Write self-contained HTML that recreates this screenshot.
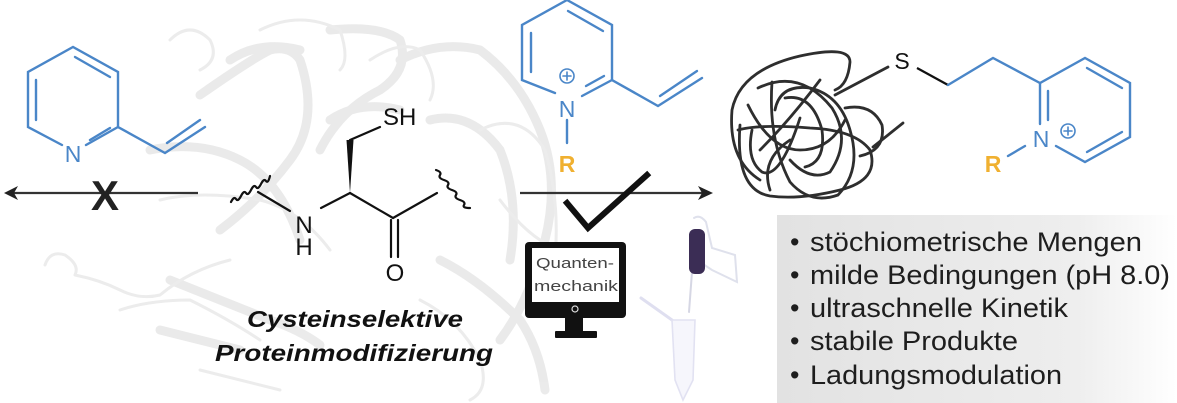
<!DOCTYPE html>
<html><head><meta charset="utf-8"><style>
html,body{margin:0;padding:0;background:#fff;}
svg{display:block}
text{font-family:"Liberation Sans",sans-serif;}
</style></head><body>
<svg width="1177" height="403" viewBox="0 0 1177 403" xmlns="http://www.w3.org/2000/svg">
<defs>
<linearGradient id="bx" x1="0" x2="1" y1="0" y2="0">
<stop offset="0" stop-color="#e2e2e2"/><stop offset="0.75" stop-color="#eeeeee"/><stop offset="1" stop-color="#ffffff"/>
</linearGradient>
</defs>
<!-- protein ribbons (faint) -->
<g fill="none" stroke-linecap="round" stroke-linejoin="round">
<g stroke="#e6e6e6" stroke-width="9" opacity="0.8">
<path d="M200 95 Q250 60 270 50 Q290 45 300 60 Q320 120 290 160 Q260 200 220 230"/>
<path d="M330 30 Q380 25 400 40 Q410 70 380 90 Q340 110 320 150"/>
<path d="M400 60 Q440 40 480 50 Q520 80 540 130 Q560 180 545 240 Q530 300 500 340"/>
<path d="M430 120 Q470 110 500 150 Q520 200 510 260"/>
<path d="M150 150 Q200 140 240 160 Q280 180 300 240"/>
<path d="M170 280 Q220 300 270 320 Q300 330 320 345"/>
<path d="M160 330 Q200 340 240 350"/>
<path d="M330 120 Q360 100 400 110"/>
<path d="M440 260 Q480 280 520 320 Q540 350 545 390"/>
<path d="M230 60 Q260 40 300 50"/>
</g>
<g stroke="#ececec" stroke-width="3">
<path d="M45 265 Q50 250 65 255 Q80 265 75 275 Q100 280 120 290 Q140 300 160 295 Q190 270 230 260"/>
<path d="M120 310 Q150 300 190 300 Q230 320 260 340"/>
<path d="M170 40 Q190 20 210 40 Q220 60 200 70"/>
<path d="M260 30 Q300 10 340 30 Q350 60 340 70"/>
<path d="M370 60 Q400 40 420 50 Q440 80 430 100"/>
<path d="M160 200 Q200 190 260 200 Q300 210 330 250"/>
<path d="M420 300 Q460 320 480 360 Q490 390 470 400"/>
<path d="M480 130 Q520 110 545 150 Q560 200 555 260"/>
<path d="M500 200 Q530 240 560 250"/>
<path d="M200 370 Q240 380 280 390"/>
</g>
</g>

<!-- left pyridine (blue) -->
<g stroke="#4a86c8" stroke-width="2.4" fill="none" stroke-linecap="round">
<polyline points="62,145 28,127 28,72 73,47 118,72 118,127 165,153 205,127"/>
<line x1="118" y1="127" x2="86" y2="145"/>
<line x1="36" y1="80" x2="36" y2="120"/>
<line x1="75" y1="57" x2="110" y2="77"/>
<line x1="110" y1="128" x2="90" y2="140"/>
<line x1="167" y1="143" x2="200" y2="120"/>
</g>
<text x="73" y="162" font-size="23" fill="#4a86c8" text-anchor="middle">N</text>

<!-- left arrow -->
<line x1="12" y1="193" x2="198" y2="193" stroke="#333" stroke-width="2.2"/>
<polygon points="4,193 18,186 14,193 18,200" fill="#222"/>
<text x="105" y="210" font-size="42" font-weight="bold" fill="#222" text-anchor="middle">X</text>

<!-- cysteine -->
<g stroke="#111" stroke-width="2.2" fill="none" stroke-linecap="round">
<path d="M231 202 q3 -6 5 -3 q2 3 5 -3 q3 -6 5 -3 q2 3 5 -3 q3 -6 5 -3 q2 3 5 -3 q3 -6 5 -3 q2 3 4 -5"/>
<line x1="258" y1="192" x2="290" y2="211"/>
<line x1="321" y1="208" x2="350" y2="193"/>
<line x1="350" y1="193" x2="393" y2="218"/>
<line x1="393" y1="218" x2="437" y2="193"/>
<line x1="391" y1="220" x2="391" y2="257"/>
<line x1="398" y1="220" x2="398" y2="257"/>
<line x1="350" y1="140" x2="380" y2="127"/>
<path d="M436 170 q6 2 4 5 q-2 3 4 5 q6 2 4 5 q-2 3 4 5 q6 2 4 5 q-2 3 4 5 q6 2 4 5 q-2 3 6 3"/>
</g>
<polygon points="350,193 346.5,140 353.5,140" fill="#111"/>
<text x="304" y="233" font-size="24" fill="#111" text-anchor="middle">N</text>
<text x="304" y="255" font-size="24" fill="#111" text-anchor="middle">H</text>
<text x="395" y="281" font-size="24" fill="#111" text-anchor="middle">O</text>
<text x="383" y="125" font-size="24" fill="#111">SH</text>
<text x="355" y="327" font-size="23" font-weight="bold" font-style="italic" fill="#111" text-anchor="middle" textLength="216" lengthAdjust="spacingAndGlyphs">Cysteinselektive</text>
<text x="354" y="361" font-size="23" font-weight="bold" font-style="italic" fill="#111" text-anchor="middle" textLength="278" lengthAdjust="spacingAndGlyphs">Proteinmodifizierung</text>

<!-- pyridinium reagent -->
<g stroke="#4a86c8" stroke-width="2.4" fill="none" stroke-linecap="round">
<polyline points="555,93 522,80 522,25 567,0 612,25 612,80 658,106 702,78"/>
<line x1="612" y1="80" x2="582" y2="96"/>
<line x1="531" y1="33" x2="531" y2="72"/>
<line x1="568" y1="11" x2="603" y2="31"/>
<line x1="604" y1="76" x2="586" y2="86"/>
<line x1="660" y1="96" x2="697" y2="71"/>
<line x1="567" y1="120" x2="567" y2="143"/>
<circle cx="567" cy="76" r="7" stroke-width="1.6"/>
<line x1="563" y1="76" x2="571" y2="76" stroke-width="1.6"/>
<line x1="567" y1="72" x2="567" y2="80" stroke-width="1.6"/>
</g>
<text x="567" y="117" font-size="23" fill="#4a86c8" text-anchor="middle">N</text>
<text x="567" y="172" font-size="23" font-weight="bold" fill="#f0b030" text-anchor="middle">R</text>

<!-- right arrow -->
<line x1="520" y1="193" x2="702" y2="193" stroke="#333" stroke-width="2.2"/>
<polygon points="713,193 698,186 702,193 698,200" fill="#222"/>
<polyline points="567,203 588,228 647,175" stroke="#111" stroke-width="6" fill="none" stroke-linecap="square"/>

<!-- monitor -->
<rect x="525" y="242" width="101" height="76" rx="4" fill="#111"/>
<rect x="532" y="248" width="87" height="54" fill="#fff"/>
<circle cx="575" cy="309" r="3" fill="none" stroke="#ddd" stroke-width="1.2"/>
<rect x="565" y="318" width="18" height="14" fill="#111"/>
<rect x="555" y="331" width="42" height="7" rx="1" fill="#111"/>
<text x="536" y="268" font-size="15" fill="#444" textLength="78" lengthAdjust="spacingAndGlyphs">Quanten-</text>
<text x="534" y="291" font-size="15" fill="#444" textLength="84" lengthAdjust="spacingAndGlyphs">mechanik</text>

<!-- pipette & tube -->
<g fill="none" stroke-linecap="round">
<path d="M694 218 Q700 214 706 222 L712 248 L735 255 L737 282 L712 270 L700 262" stroke="#dfe1ec" stroke-width="2"/>
<line x1="692" y1="272" x2="689" y2="312" stroke="#d6d7e4" stroke-width="2"/>
<path d="M641 298 L672 320" stroke="#dfdff0" stroke-width="3"/>
<path d="M672 320 L695 320 L693 380 L683 400 L675 380 Z" stroke="#e2e2f2" stroke-width="1.6" fill="#f6f6fc"/>
</g>
<rect x="689" y="229" width="16" height="45" rx="6" fill="#3b2d55"/>

<!-- polymer coil -->
<g stroke="#2e2e2e" stroke-width="2.8" fill="none" stroke-linecap="round">
<path d="M760 180 Q728 160 732 110 Q740 70 800 56 Q850 45 850 62 Q848 85 835 90"/>
<path d="M740 125 Q735 190 770 196 Q800 200 840 190 Q880 180 870 150 Q855 130 810 128 Q760 124 738 130"/>
<path d="M772 82 Q768 140 790 182 Q810 205 838 195 Q862 170 850 130 Q840 95 810 88 Q780 84 775 110"/>
<path d="M758 88 Q800 68 832 108 Q852 140 830 172 Q810 182 790 160"/>
<path d="M800 118 Q780 180 762 172 Q746 160 752 130"/>
<path d="M845 108 Q872 103 882 125 Q886 150 860 156"/>
<path d="M785 98 Q812 93 822 130 Q826 162 805 167"/>
<path d="M748 105 Q770 150 800 150 Q830 150 845 120"/>
<path d="M820 80 Q790 120 760 150"/>
<path d="M770 190 Q760 160 790 140"/>
<path d="M873 147 L903 123"/>
<path d="M835 95 L888 67"/>
</g>
<text x="902" y="69" font-size="23" fill="#111" text-anchor="middle">S</text>
<g stroke="#111" stroke-width="2.2" fill="none"><line x1="917" y1="68" x2="948" y2="85"/></g>

<!-- product pyridinium -->
<g stroke="#4a86c8" stroke-width="2.4" fill="none" stroke-linecap="round">
<polyline points="948,85 993,58 1040,83 1085,58 1130,83 1130,137 1085,162 1056,146"/>
<line x1="1040" y1="83" x2="1040" y2="124"/>
<line x1="1048" y1="91" x2="1048" y2="120"/>
<line x1="1087" y1="68" x2="1122" y2="88"/>
<line x1="1122" y1="132" x2="1087" y2="152"/>
<line x1="1008" y1="156" x2="1025" y2="146"/>
<circle cx="1068" cy="131" r="7" stroke-width="1.6"/>
<line x1="1064" y1="131" x2="1072" y2="131" stroke-width="1.6"/>
<line x1="1068" y1="127" x2="1068" y2="135" stroke-width="1.6"/>
</g>
<text x="1041" y="147" font-size="23" fill="#4a86c8" text-anchor="middle">N</text>
<text x="993" y="172" font-size="23" font-weight="bold" fill="#f0b030" text-anchor="middle">R</text>

<!-- properties box -->
<rect x="777" y="215" width="400" height="188" fill="url(#bx)"/>
<g font-size="27" fill="#1e1e1e">
<text x="790" y="251">•</text><text x="810" y="251" textLength="332" lengthAdjust="spacingAndGlyphs">stöchiometrische Mengen</text>
<text x="790" y="284">•</text><text x="810" y="284" textLength="360" lengthAdjust="spacingAndGlyphs">milde Bedingungen (pH 8.0)</text>
<text x="790" y="317">•</text><text x="810" y="317" textLength="258" lengthAdjust="spacingAndGlyphs">ultraschnelle Kinetik</text>
<text x="790" y="350">•</text><text x="810" y="350" textLength="208" lengthAdjust="spacingAndGlyphs">stabile Produkte</text>
<text x="790" y="384">•</text><text x="810" y="384" textLength="252" lengthAdjust="spacingAndGlyphs">Ladungsmodulation</text>
</g>
</svg>
</body></html>
